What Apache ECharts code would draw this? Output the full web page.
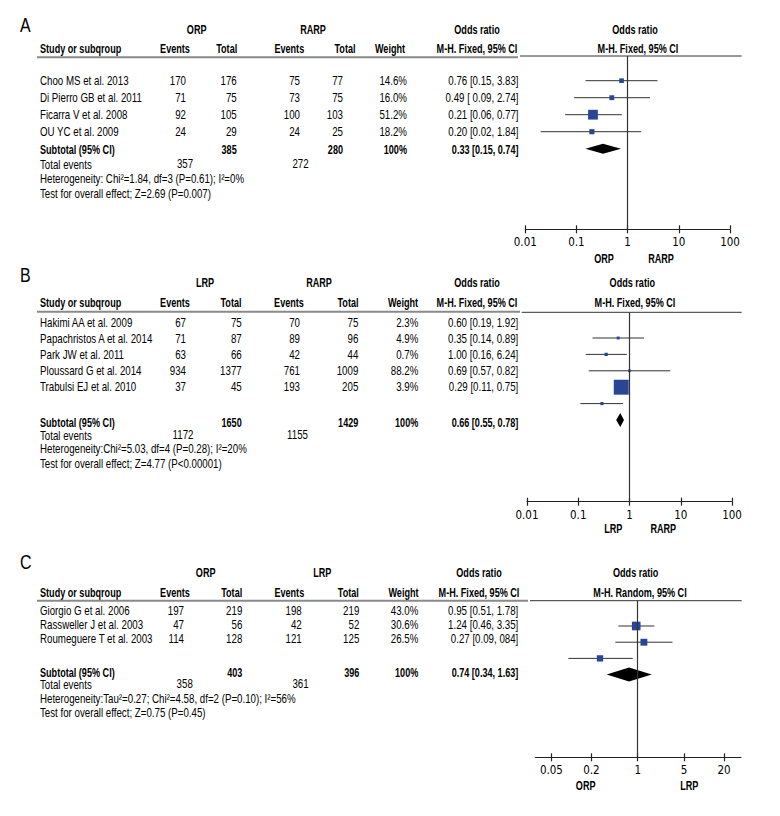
<!DOCTYPE html>
<html><head><meta charset="utf-8">
<script src="https://cdn.jsdelivr.net/npm/echarts@6/dist/echarts.min.js"></script>
<style>html,body{margin:0;padding:0;background:#fff}#c{width:780px;height:816px}</style>
</head><body><div id="c"></div>
<script>
// ---------- Panel A: ORP vs RARP ----------
const studiesA = ['Choo MS et al. 2013','Di Pierro GB et al. 2011','Ficarra V et al. 2008','OU YC et al. 2009'];
const ev1A = [170, 71, 92, 24];
const tot1A = [176, 75, 105, 29];
const ev2A = [75, 73, 100, 24];
const tot2A = [77, 75, 103, 25];
const weightA = [14.6, 16.0, 51.2, 18.2];
const orA = [0.76, 0.49, 0.21, 0.20];
const loA = [0.15, 0.09, 0.06, 0.02];
const hiA = [3.83, 2.74, 0.77, 1.84];
const ciTextA = ['0.76 [0.15, 3.83]','0.49 [ 0.09, 2.74]','0.21 [0.06, 0.77]','0.20 [0.02, 1.84]'];
const subA = {tot1: 385, tot2: 280, weight: '100%', or: 0.33, lo: 0.15, hi: 0.74, text: '0.33 [0.15, 0.74]', ev1: 357, ev2: 272};
const groupsA = ['ORP', 'RARP'];
const hetA = 'Heterogeneity: Chi\u00B2=1.84, df=3 (P=0.61); I\u00B2=0%';
const testA = 'Test for overall effect; Z=2.69 (P=0.007)';
const methodA = 'M-H. Fixed, 95% CI';
const plotMethodA = 'M-H. Fixed, 95% CI';
const ticksA = [0.01, 0.1, 1, 10, 100];

// ---------- Panel B: LRP vs RARP ----------
const studiesB = ['Hakimi AA et al. 2009','Papachristos A et al. 2014','Park JW et al. 2011','Ploussard G et al. 2014','Trabulsi EJ et al. 2010'];
const ev1B = [67, 71, 63, 934, 37];
const tot1B = [75, 87, 66, 1377, 45];
const ev2B = [70, 89, 42, 761, 193];
const tot2B = [75, 96, 44, 1009, 205];
const weightB = [2.3, 4.9, 0.7, 88.2, 3.9];
const orB = [0.60, 0.35, 1.00, 0.69, 0.29];
const loB = [0.19, 0.14, 0.16, 0.57, 0.11];
const hiB = [1.92, 0.89, 6.24, 0.82, 0.75];
const ciTextB = ['0.60 [0.19, 1.92]','0.35 [0.14, 0.89]','1.00 [0.16, 6.24]','0.69 [0.57, 0.82]','0.29 [0.11, 0.75]'];
const subB = {tot1: 1650, tot2: 1429, weight: '100%', or: 0.66, lo: 0.55, hi: 0.78, text: '0.66 [0.55, 0.78]', ev1: 1172, ev2: 1155};
const groupsB = ['LRP', 'RARP'];
const hetB = 'Heterogeneity:Chi\u00B2=5.03, df=4 (P=0.28); I\u00B2=20%';
const testB = 'Test for overall effect; Z=4.77 (P<0.00001)';
const methodB = 'M-H. Fixed, 95% CI';
const plotMethodB = 'M-H. Fixed, 95% CI';
const ticksB = [0.01, 0.1, 1, 10, 100];

// ---------- Panel C: ORP vs LRP ----------
const studiesC = ['Giorgio G et al. 2006','Rassweller J et al. 2003','Roumeguere T et al. 2003'];
const ev1C = [197, 47, 114];
const tot1C = [219, 56, 128];
const ev2C = [198, 42, 121];
const tot2C = [219, 52, 125];
const weightC = [43.0, 30.6, 26.5];
const orC = [0.95, 1.24, 0.27];
const loC = [0.51, 0.46, 0.09];
const hiC = [1.78, 3.35, 0.84];
const ciTextC = ['0.95 [0.51, 1.78]','1.24 [0.46, 3.35]','0.27 [0.09, 084]'];
const subC = {tot1: 403, tot2: 396, weight: '100%', or: 0.74, lo: 0.34, hi: 1.63, text: '0.74 [0.34, 1.63]', ev1: 358, ev2: 361};
const groupsC = ['ORP', 'LRP'];
const hetC = 'Heterogeneity:Tau\u00B2=0.27; Chi\u00B2=4.58, df=2 (P=0.10); I\u00B2=56%';
const testC = 'Test for overall effect; Z=0.75 (P=0.45)';
const methodC = 'M-H. Fixed, 95% CI';
const plotMethodC = 'M-H. Random, 95% CI';
const ticksC = [0.05, 0.2, 1, 5, 20];

// ---------- Layout (positions / styles) ----------
const FONT = '"Liberation Sans",Arial,sans-serif';
const AXFONT = '"DejaVu Sans Condensed","Liberation Sans",sans-serif';
const FS = 12.3;
const SX = 0.79;      // horizontal squeeze for regular text (narrow look)
const SXB = 0.74;     // horizontal squeeze for bold text
const TXT = '#000';
const BLUE = '#2a4596';

const panels = [
  {letter: 'A', studies: studiesA, ev1: ev1A, tot1: tot1A, ev2: ev2A, tot2: tot2A, weight: weightA,
   or: orA, lo: loA, hi: hiA, ci: ciTextA, sub: subA, groups: groupsA, het: hetA, test: testA,
   method: methodA, plotMethod: plotMethodA, ticks: ticksA,
   L: {letterY: 25, grpY: 29, hdrY: 48.3, lineY: 57.3, plotLineY: 56, tableLineEnd: 518, plotLineStart: 520,
       rowY0: 80.7, rowH: 17, subY: 149, totY: 164.3, hetY: 178.5, testY: 194,
       cols: {ev1: 186, tot1: 236.7, ev2: 300, tot2: 343, w: 407, or: 518.5},
       hdr: {ev1: 175, tot1: 226.7, ev2: 289.3, tot2: 345, w: 390, or: 477},
       grpX: [196.7, 313], totEvX: [185, 300.5],
       grid: {left: 525.3, right: 730, top: 56, bottom: 229.3}, xMin: -2, xMax: 2,
       plotY0: 80.7, plotH: 17, plotOffset: 0, diamondK: 4, diamondHalf: 5,
       axisLabY: 258.3, axisLabX: [604, 661], plotHdrX: [635, 638]}},
  {letter: 'B', studies: studiesB, ev1: ev1B, tot1: tot1B, ev2: ev2B, tot2: tot2B, weight: weightB,
   or: orB, lo: loB, hi: hiB, ci: ciTextB, sub: subB, groups: groupsB, het: hetB, test: testB,
   method: methodB, plotMethod: plotMethodB, ticks: ticksB,
   L: {letterY: 275, grpY: 282.3, hdrY: 302.7, lineY: 311.8, plotLineY: 312.3, tableLineEnd: 520, plotLineStart: 521.7,
       rowY0: 322.7, rowH: 15.85, subY: 422.7, totY: 436, hetY: 449, testY: 464,
       cols: {ev1: 186, tot1: 241.7, ev2: 300, tot2: 358.3, w: 418.3, or: 518.3},
       hdr: {ev1: 175, tot1: 231, ev2: 289, tot2: 348, w: 403, or: 477},
       grpX: [205, 319], totEvX: [183, 297.5],
       grid: {left: 527, right: 732, top: 312.3, bottom: 501.7}, xMin: -2, xMax: 2,
       plotY0: 321.6, plotH: 16.4, plotOffset: 1, diamondK: 6, diamondHalf: 7,
       axisLabY: 528.3, axisLabX: [613.3, 663.3], plotHdrX: [632.3, 635]}},
  {letter: 'C', studies: studiesC, ev1: ev1C, tot1: tot1C, ev2: ev2C, tot2: tot2C, weight: weightC,
   or: orC, lo: loC, hi: hiC, ci: ciTextC, sub: subC, groups: groupsC, het: hetC, test: testC,
   method: methodC, plotMethod: plotMethodC, ticks: ticksC,
   L: {letterY: 561.7, grpY: 572.3, hdrY: 592.3, lineY: 600.7, plotLineY: 600.7, tableLineEnd: 528, plotLineStart: 530,
       rowY0: 610.7, rowH: 14, subY: 672.3, totY: 685, hetY: 698.5, testY: 712.5,
       cols: {ev1: 184, tot1: 242.3, ev2: 301.7, tot2: 359.3, w: 418.3, or: 518.3},
       hdr: {ev1: 175, tot1: 231.7, ev2: 289.3, tot2: 348.3, w: 403.5, or: 479},
       grpX: [205.7, 322.3], totEvX: [184.7, 300.5],
       grid: {left: 535.3, right: 741, top: 600.7, bottom: 757.3}, xMin: -1.5445, xMax: 1.558,
       plotY0: 609.8, plotH: 16.2, plotOffset: 1, diamondK: 4, diamondHalf: 7,
       axisLabY: 785.7, axisLabX: [585.7, 689.3], plotHdrX: [635.7, 640]}}
];

const graphic = [];
function txt(text, x, y, align, bold, size, sx) {
  graphic.push({type: 'text', silent: true, x: x, y: y,
    scaleX: sx || (bold ? SXB : SX), scaleY: 1,
    style: {text: String(text), x: 0, y: 0, align: align || 'left', verticalAlign: 'middle',
      font: (bold ? 'bold ' : '') + (size || FS) + 'px ' + FONT, fill: TXT}});
}
function hline(x1, x2, y, color, w) {
  graphic.push({type: 'line', silent: true, shape: {x1: x1, y1: y, x2: x2, y2: y},
    style: {stroke: color, lineWidth: w}});
}

const grids = [], xAxes = [], yAxes = [], series = [];

panels.forEach(function (p, pi) {
  const L = p.L;
  txt(p.letter, 20, L.letterY, 'left', false, 21, 0.76);
  txt(p.groups[0], L.grpX[0], L.grpY, 'center', true);
  txt(p.groups[1], L.grpX[1], L.grpY, 'center', true);
  txt('Odds ratio', L.hdr.or, L.grpY, 'center', true);
  txt('Odds ratio', L.plotHdrX[0], L.grpY, 'center', true);
  txt('Study or subqroup', 40, L.hdrY, 'left', true);
  txt('Events', L.hdr.ev1, L.hdrY, 'center', true);
  txt('Total', L.hdr.tot1, L.hdrY, 'center', true);
  txt('Events', L.hdr.ev2, L.hdrY, 'center', true);
  txt('Total', L.hdr.tot2, L.hdrY, 'center', true);
  txt('Weight', L.hdr.w, L.hdrY, 'center', true);
  txt(p.method, L.hdr.or, L.hdrY, 'center', true);
  txt(p.plotMethod, L.plotHdrX[1], L.hdrY, 'center', true);
  hline(37, L.tableLineEnd, L.lineY, '#8a8a8a', 2);
  hline(L.plotLineStart, 741.7, L.plotLineY, '#333', 1);
  p.studies.forEach(function (s, i) {
    const y = L.rowY0 + i * L.rowH;
    txt(s, 40, y, 'left');
    txt(p.ev1[i], L.cols.ev1, y, 'right');
    txt(p.tot1[i], L.cols.tot1, y, 'right');
    txt(p.ev2[i], L.cols.ev2, y, 'right');
    txt(p.tot2[i], L.cols.tot2, y, 'right');
    txt(p.weight[i].toFixed(1) + '%', L.cols.w, y, 'right');
    txt(p.ci[i], L.cols.or, y, 'right');
  });
  txt('Subtotal (95% CI)', 40, L.subY, 'left', true);
  txt(p.sub.tot1, L.cols.tot1, L.subY, 'right', true);
  txt(p.sub.tot2, L.cols.tot2, L.subY, 'right', true);
  txt(p.sub.weight, L.cols.w, L.subY, 'right', true);
  txt(p.sub.text, L.cols.or, L.subY, 'right', true);
  txt('Total events', 40, L.totY, 'left');
  txt(p.sub.ev1, L.totEvX[0], L.totY - 1, 'center');
  txt(p.sub.ev2, L.totEvX[1], L.totY - 1, 'center');
  txt(p.het, 40, L.hetY, 'left');
  txt(p.test, 40, L.testY, 'left');
  txt(p.groups[0], L.axisLabX[0], L.axisLabY, 'center', true);
  txt(p.groups[1], L.axisLabX[1], L.axisLabY, 'center', true);

  const g = L.grid;
  grids.push({left: g.left, width: g.right - g.left, top: g.top, height: g.bottom - g.top, containLabel: false});
  const yMin = (g.top - L.plotY0) / L.plotH;
  const yMax = (g.bottom - L.plotY0) / L.plotH;
  yAxes.push({gridIndex: pi, type: 'value', inverse: true, min: yMin, max: yMax, show: false});
  const tickVals = p.ticks.map(function (t) { return Math.log10(t); });
  const fmt = function (v) {
    let best = p.ticks[0], bd = 1e9;
    p.ticks.forEach(function (t) { const d = Math.abs(Math.log10(t) - v); if (d < bd) { bd = d; best = t; } });
    return String(best);
  };
  xAxes.push({gridIndex: pi, type: 'value', min: L.xMin, max: L.xMax, position: 'bottom',
    axisLine: {show: true, onZero: false, lineStyle: {color: '#222', width: 1.2}},
    axisTick: {show: true, inside: false, length: 4, customValues: tickVals, lineStyle: {color: '#222', width: 1.2}},
    axisLabel: {show: true, customValues: tickVals, formatter: fmt, margin: 7,
      fontFamily: AXFONT, fontSize: 11.5, color: TXT},
    splitLine: {show: false}});
  xAxes.push({gridIndex: pi, type: 'value', min: L.xMin, max: L.xMax, position: 'bottom',
    axisLine: {show: false, onZero: false},
    axisTick: {show: true, inside: true, length: 4, customValues: tickVals, lineStyle: {color: '#222', width: 1.2}},
    axisLabel: {show: false}, splitLine: {show: false}});
  const xi = xAxes.length - 2;

  const studyData = p.studies.map(function (s, i) {
    return [Math.log10(p.or[i]), i + L.plotOffset, Math.log10(p.lo[i]), Math.log10(p.hi[i]), 2.6 + 0.14 * p.weight[i]];
  });
  series.push({
    type: 'custom', xAxisIndex: xi, yAxisIndex: pi, silent: true, clip: false,
    data: studyData,
    renderItem: function (params, api) {
      const y = api.value(1);
      const a = api.coord([api.value(2), y]);
      const b = api.coord([api.value(3), y]);
      const c = api.coord([api.value(0), y]);
      const s = api.value(4);
      return {type: 'group', children: [
        {type: 'line', shape: {x1: a[0], y1: a[1], x2: b[0], y2: b[1]}, style: {stroke: '#333', lineWidth: 1}},
        {type: 'rect', shape: {x: c[0] - s / 2, y: c[1] - s / 2, width: s, height: s}, style: {fill: BLUE}}
      ]};
    },
    markLine: {silent: true, symbol: ['none', 'none'], label: {show: false}, animation: false,
      lineStyle: {color: '#333', width: 1.2, type: 'solid'}, data: [{xAxis: 0}]}
  });
  const dh = L.diamondHalf;
  series.push({
    type: 'custom', xAxisIndex: xi, yAxisIndex: pi, silent: true, clip: false,
    data: [[Math.log10(p.sub.or), L.diamondK, Math.log10(p.sub.lo), Math.log10(p.sub.hi)]],
    renderItem: function (params, api) {
      const y = api.value(1);
      const a = api.coord([api.value(2), y]);
      const b = api.coord([api.value(3), y]);
      const c = api.coord([api.value(0), y]);
      return {type: 'polygon', shape: {points: [[a[0], a[1]], [c[0], c[1] - dh], [b[0], b[1]], [c[0], c[1] + dh]]},
        style: {fill: '#000'}};
    }
  });
});

const chart = echarts.init(document.getElementById('c'), null, {renderer: 'svg'});
chart.setOption({
  animation: false,
  backgroundColor: '#fff',
  grid: grids,
  xAxis: xAxes,
  yAxis: yAxes,
  series: series,
  graphic: graphic
});
</script>
</body></html>
